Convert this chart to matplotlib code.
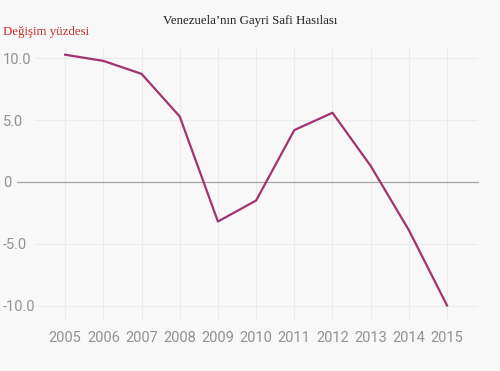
import matplotlib.pyplot as plt
from matplotlib.ticker import FixedLocator, FixedFormatter

# Venezuela GDP change, percent
years = [2005, 2006, 2007, 2008, 2009, 2010, 2011, 2012, 2013, 2014, 2015]
gdp_change = [10.3, 9.8, 8.75, 5.3, -3.2, -1.5, 4.2, 5.6, 1.3, -3.9, -10.0]
y_ticks = [10, 5, 0, -5, -10]
y_labels = ['10.0', '5.0', '0', '-5.0', '-10.0']

bg = '#f8f8f8'
fig = plt.figure(figsize=(5, 3.71), dpi=100, facecolor=bg)
ax = fig.add_axes([0.07, 0.1375, 0.886, 0.736], facecolor=bg)

ax.plot(years, gdp_change, color='#a2336f', lw=1.6, zorder=3)

ax.set_xlim(2004.21, 2015.81)
ax.set_ylim(-11.17, 10.93)

ax.set_xticks(years)
ax.set_xticklabels([str(y) for y in years])
ax.yaxis.set_major_locator(FixedLocator(y_ticks))
ax.yaxis.set_major_formatter(FixedFormatter(y_labels))

for s in ax.spines.values():
    s.set_visible(False)
ax.tick_params(length=0, labelsize=10.5, labelcolor='#929292')
ax.tick_params(axis='x', pad=8)
ax.tick_params(axis='y', pad=23)
for lab in ax.get_yticklabels():
    lab.set_horizontalalignment('left')
    lab.set_family('Roboto')
for lab in ax.get_xticklabels():
    lab.set_family('Roboto')

ax.grid(True, color='#ebebeb', lw=0.8, zorder=0)
ax.axhline(0, xmin=-0.04, xmax=1, color='#a8a8a8', lw=0.9, zorder=2, clip_on=False)

fig.text(0.5, 0.943, 'Venezuela\u2019n\u0131n Gayri Safi Has\u0131las\u0131', ha='center',
         va='center', family='Liberation Serif', fontsize=9.3, color='#222222')
fig.text(0.006, 0.915, 'De\u011fi\u015fim y\u00fczdesi', ha='left', va='center',
         family='Liberation Serif', fontsize=9.3, color='#c0302a')

fig.savefig('out.png', dpi=100, facecolor=bg)
